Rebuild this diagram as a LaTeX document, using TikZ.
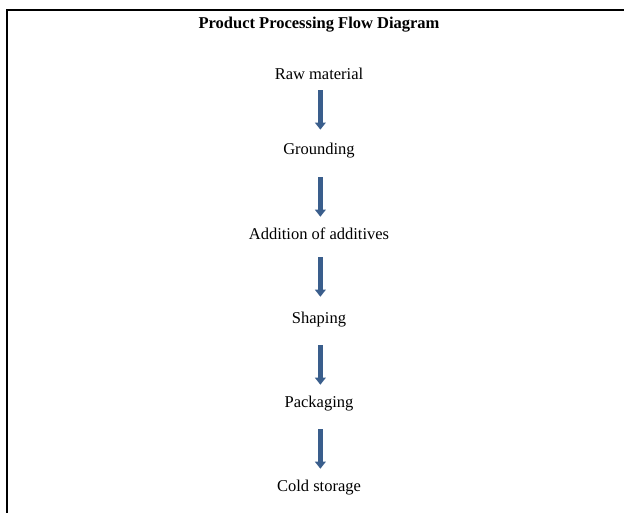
\documentclass[tikz,border=0pt]{standalone}
\usepackage{fontspec}
\setmainfont{Liberation Serif}
\usetikzlibrary{arrows.meta}

\definecolor{flowblue}{RGB}{58,94,140}

\tikzset{
  stage/.style  = {inner sep=0pt, anchor=base, text height=8pt, text depth=3pt,
                   font=\fontsize{12}{14}\selectfont},
  flowarrow/.style = {draw=flowblue, line width=3.6pt,
                      -{Triangle[width=7.8pt,length=5.2pt]}}
}

\begin{document}
\begin{tikzpicture}[x=0.7273pt, y=-0.7273pt]
        \useasboundingbox (0,0) rectangle (624,513);
        \draw[line width=1.4pt] (7,513) -- (7,10) -- (624,10);

        % Place nodes
        \node[stage, font=\fontsize{12}{14}\selectfont\bfseries] (title) at (319,28) {Product Processing Flow Diagram};
        \node[stage] (raw)  at (319,79)  {Raw material};
        \node[stage] (grnd) at (319,154) {Grounding};
        \node[stage] (addv) at (319,239) {Addition of additives};
        \node[stage] (shap) at (319,323) {Shaping};
        \node[stage] (pack) at (319,407) {Packaging};
        \node[stage] (cold) at (319,491) {Cold storage};

        % Draw edges
        \draw [flowarrow, shorten <=5pt,    shorten >=9.5pt]  ([xshift=1pt]raw.south)  -- ([xshift=1pt]grnd.north);
        \draw [flowarrow, shorten <=13.7pt, shorten >=8pt]    ([xshift=1pt]grnd.south) -- ([xshift=1pt]addv.north);
        \draw [flowarrow, shorten <=10.1pt, shorten >=10.9pt] ([xshift=1pt]addv.south) -- ([xshift=1pt]shap.north);
        \draw [flowarrow, shorten <=13pt,   shorten >=8pt]    ([xshift=1pt]shap.south) -- ([xshift=1pt]pack.north);
        \draw [flowarrow, shorten <=13pt,   shorten >=8pt]    ([xshift=1pt]pack.south) -- ([xshift=1pt]cold.north);
    \end{tikzpicture}
\end{document}
